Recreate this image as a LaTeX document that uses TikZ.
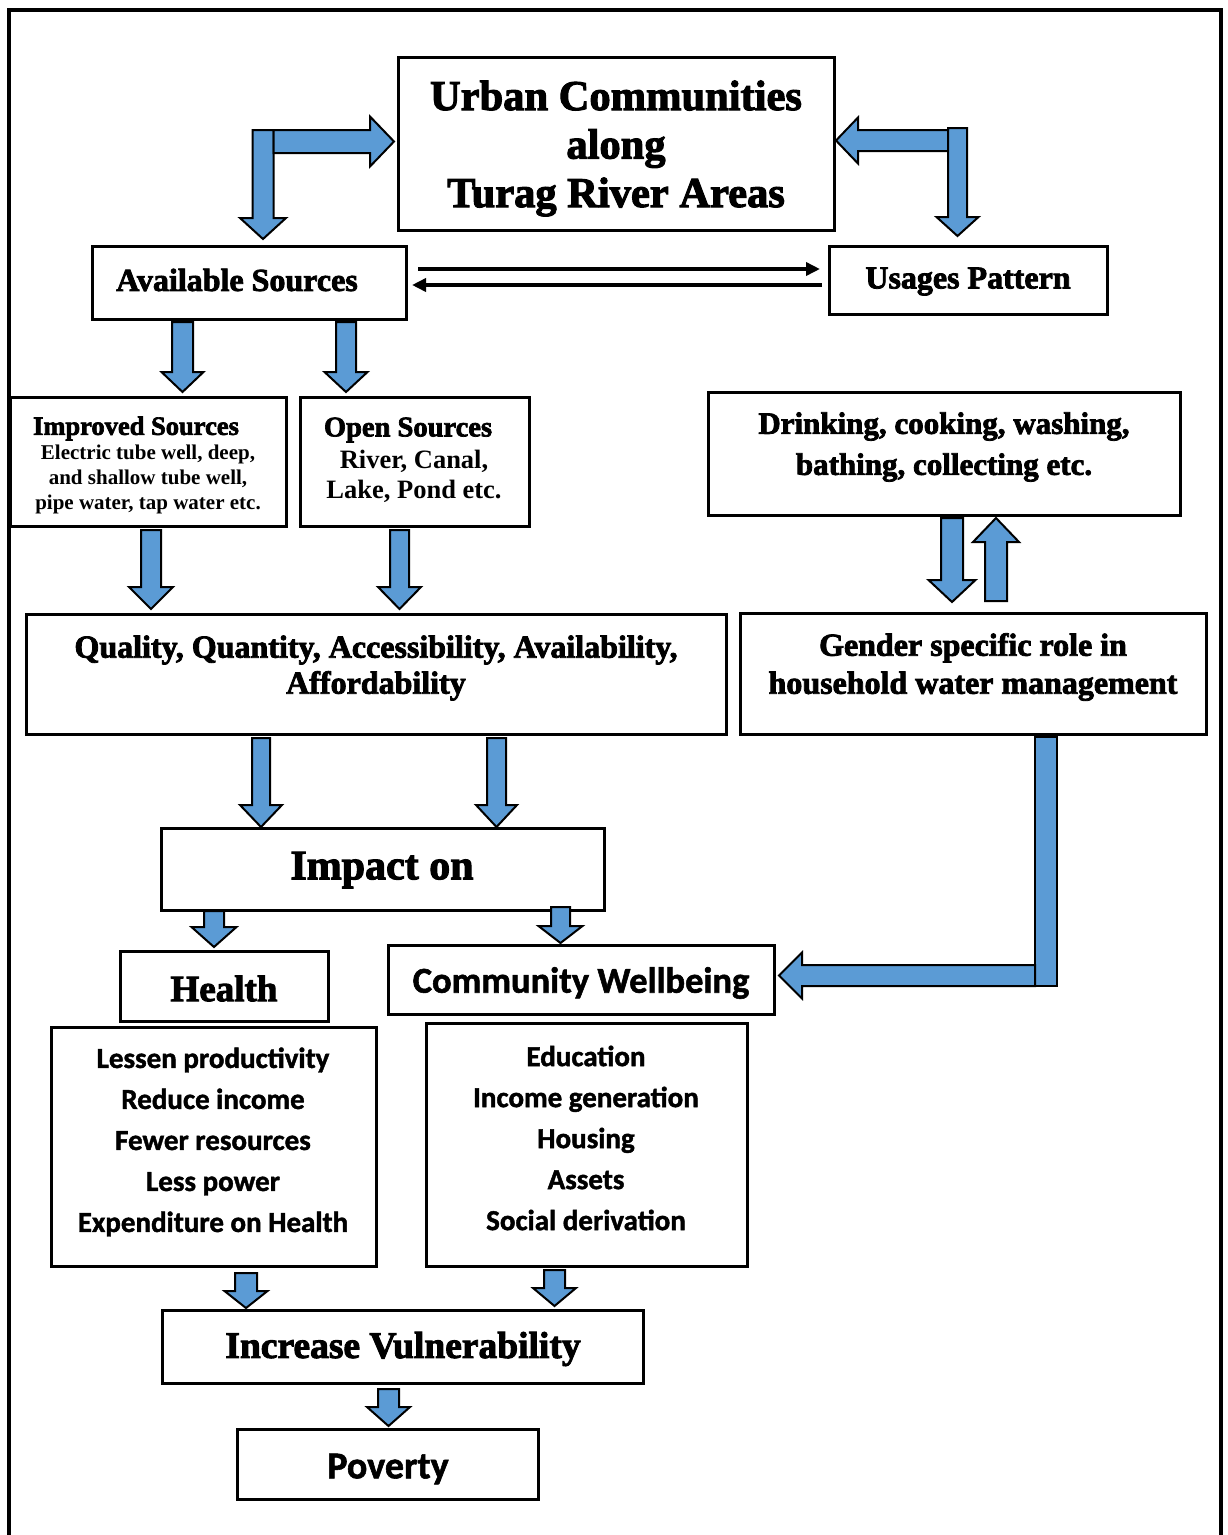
\documentclass[tikz,border=0pt]{standalone}
\usepackage{fontspec}
\setmainfont{Liberation Serif}
\newfontfamily\heavy{Liberation Serif Bold}[FakeBold=2.5]
\newfontfamily\carlh{Carlito Bold}[FakeBold=1.5]
\usetikzlibrary{arrows.meta}
\definecolor{arrowblue}{HTML}{5B9BD5}
\tikzset{
  box/.style={draw, line width=3pt, inner sep=0pt, outer sep=0pt},
  txt/.style={inner sep=0pt, align=center},
  barrow/.style={draw=black, fill=arrowblue, line width=2pt, line join=miter},
  dline/.style={line width=4.5pt, -{Triangle[length=14pt,width=13pt]}},
}
% down block arrow: x, ytop, ytip, bar half width, head half width, head length
\newcommand\bdn[6]{\draw[barrow] ({#1-#4},#2) -- ({#1+#4},#2) -- ({#1+#4},{#3-#6}) -- ({#1+#5},{#3-#6}) -- (#1,#3) -- ({#1-#5},{#3-#6}) -- ({#1-#4},{#3-#6}) -- cycle;}
% up block arrow: x, ybottom, ytip, bar half width, head half width, head length
\newcommand\bup[6]{\draw[barrow] ({#1-#4},#2) -- ({#1+#4},#2) -- ({#1+#4},{#3+#6}) -- ({#1+#5},{#3+#6}) -- (#1,#3) -- ({#1-#5},{#3+#6}) -- ({#1-#4},{#3+#6}) -- cycle;}
% horizontal block arrow: xstart, y, xtip, bar half, head half, head length (signed by direction)
\newcommand\bhz[6]{\draw[barrow] (#1,{#2-#4}) -- ({#3-#6},{#2-#4}) -- ({#3-#6},{#2-#5}) -- (#3,#2) -- ({#3-#6},{#2+#5}) -- ({#3-#6},{#2+#4}) -- (#1,{#2+#4}) -- cycle;}
\begin{document}
\begin{tikzpicture}[x=1pt,y=-1pt]
\useasboundingbox (0,0) rectangle (1227,1535);
% outer frame
\draw[line width=3.5pt] (9,1536) -- (9,10) -- (1221,10) -- (1221,1536);

% boxes
\node[box, minimum width=436pt, minimum height=173pt] (urban) at (616,143.5) {};
\node[box, minimum width=314pt, minimum height=73pt] (avail) at (249,282.5) {};
\node[box, minimum width=278pt, minimum height=68pt] (usage) at (968,280) {};
\node[box, minimum width=276pt, minimum height=129pt] (improved) at (148,461.5) {};
\node[box, minimum width=229pt, minimum height=129pt] (open) at (414.5,461.5) {};
\node[box, minimum width=472pt, minimum height=123pt] (drink) at (944,453.5) {};
\node[box, minimum width=466pt, minimum height=121pt] (gender) at (973,673.5) {};
\node[box, minimum width=700pt, minimum height=120pt] (quality) at (376,674.5) {};
\node[box, minimum width=443pt, minimum height=82pt] (impact) at (382.5,869) {};
\node[box, minimum width=208pt, minimum height=70pt] (health) at (224,986) {};
\node[box, minimum width=386pt, minimum height=69pt] (comm) at (581,979.5) {};
\node[box, minimum width=325pt, minimum height=239pt] (hlist) at (213.5,1146.5) {};
\node[box, minimum width=321pt, minimum height=243pt] (clist) at (586.5,1144.5) {};
\node[box, minimum width=481pt, minimum height=73pt] (incr) at (402.5,1346.5) {};
\node[box, minimum width=301pt, minimum height=70pt] (pov) at (387.5,1464) {};

% texts
\node[txt, font={\heavy\fontsize{42.5pt}{48.5pt}\selectfont}] (urbantxt) at (616,148.5) {Urban Communities\\along\\Turag River Areas};
\node[txt, font={\heavy\fontsize{32pt}{38pt}\selectfont}] (availtxt) at (237,280) {Available Sources};
\node[txt, font={\heavy\fontsize{32pt}{38pt}\selectfont}] (usagetxt) at (968,281.5) {Usages Pattern};
\node[txt, font={\heavy\fontsize{26.5pt}{30pt}\selectfont}] (imprtitle) at (136,428.5) {Improved Sources};
\node[txt, font={\bfseries\fontsize{21pt}{25pt}\selectfont}] (imprsub) at (148,479.5) {Electric tube well, deep,\\and shallow tube well,\\pipe water, tap water etc.};
\node[txt, font={\heavy\fontsize{28.5pt}{32pt}\selectfont}] (opentitle) at (408,430) {Open Sources};
\node[txt, font={\bfseries\fontsize{26.5pt}{30pt}\selectfont}] (opensub) at (414,476.5) {River, Canal,\\Lake, Pond etc.};
\node[txt, font={\heavy\fontsize{31pt}{41pt}\selectfont}] (drinktxt) at (944,447) {Drinking, cooking, washing,\\bathing, collecting etc.};
\node[txt, font={\heavy\fontsize{32pt}{38pt}\selectfont}] (gendertxt) at (973,667) {Gender specific role in\\household water management};
\node[txt, font={\heavy\fontsize{32pt}{36pt}\selectfont}] (qualtxt) at (376,668) {Quality, Quantity, Accessibility, Availability,\\Affordability};
\node[txt, font={\heavy\fontsize{42pt}{48pt}\selectfont}] (impacttxt) at (382,870) {Impact on};
\node[txt, font={\heavy\fontsize{37pt}{42pt}\selectfont}] (healthtxt) at (224,988.5) {Health};
\node[txt, font={\carlh\fontsize{36.5pt}{42pt}\selectfont}] (commtxt) at (581,983) {Community Wellbeing};
\node[txt, font={\carlh\fontsize{29pt}{41pt}\selectfont}] (hlisttxt) at (213,1142) {Lessen productivity\\Reduce income\\Fewer resources\\Less power\\Expenditure on Health};
\node[txt, font={\carlh\fontsize{29pt}{41pt}\selectfont}] (clisttxt) at (586,1138) {Education\\Income generation\\Housing\\Assets\\Social derivation};
\node[txt, font={\heavy\fontsize{37.5pt}{42pt}\selectfont}] (incrtxt) at (403,1349) {Increase Vulnerability};
\node[txt, font={\carlh\fontsize{38pt}{42pt}\selectfont}] (povtxt) at (388,1469) {Poverty};

% double line connectors between Available Sources and Usages Pattern
\coordinate (ya) at (0,269);
\coordinate (yb) at (0,285);
\draw[dline, shorten <=12pt, shorten >=9pt] (avail.east |- ya) -- (usage.west |- ya);
\draw[dline, shorten <=7pt, shorten >=6pt] (usage.west |- yb) -- (avail.east |- yb);

% elbow arrows at top
\bdn{263}{130}{239}{10.5}{23}{21}
\bhz{273.5}{141.5}{394}{11.5}{25}{24}
\bhz{948}{140.5}{836}{10.5}{23}{-22}
\bdn{957.5}{128}{236}{9.5}{21}{19}

% arrows from Available Sources
\bdn{182.5}{322}{392}{10.5}{21}{20}
\bdn{346}{322}{392}{10}{21.5}{20}
% arrows to Quality box
\bdn{151}{530}{609}{10}{22}{22}
\bdn{399.5}{530}{609}{9.5}{21.5}{22}
% arrows to Impact on
\bdn{261}{738}{827}{9}{21}{22}
\bdn{496.5}{738}{827}{9.5}{20.5}{22}
% arrows from Impact on
\bdn{214}{911}{947}{10}{22.5}{20}
\bdn{560.5}{907}{943}{9.5}{22}{17}
% arrows to Increase Vulnerability
\bdn{246}{1273}{1308}{11}{21.5}{17}
\bdn{554.5}{1270}{1306}{10.5}{21.5}{18}
% arrow to Poverty
\bdn{388.5}{1389}{1426}{10.5}{21.5}{19}
% drinking <-> gender
\bdn{952}{518}{602}{11}{23.5}{22}
\bup{996}{601}{518}{11}{23}{24}
% gender -> community wellbeing
\draw[barrow] (1035,737) rectangle (1057,986);
\bhz{1035}{975.5}{779}{10.5}{23}{-23}
\end{tikzpicture}
\end{document}
